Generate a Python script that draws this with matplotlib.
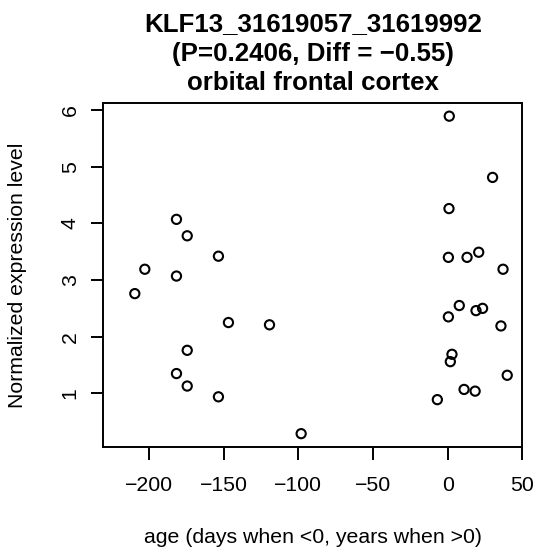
import numpy as np
import matplotlib
matplotlib.use("Agg")
import matplotlib.pyplot as plt

plt.rcParams['font.family'] = ['Liberation Sans', 'DejaVu Sans']

# ages (days when <0, years when >0)
age = [-209.5, -202.8, -181.6, -174.4, -153.5, -181.6, -146.8, -119.3,
       -174.4, -181.6, -174.4, -153.5, -98.1,
       1.1, 30.1, 0.9, 0.5, 13.0, 20.8, 37.1, 7.8, 0.5, 19.0, 23.4,
       35.7, 2.9, 1.8, 39.9, 11.0, 18.4, -6.9]
expr = [2.76, 3.19, 4.07, 3.78, 3.42, 3.07, 2.25, 2.21,
        1.76, 1.35, 1.13, 0.94, 0.29,
        5.89, 4.81, 4.26, 3.40, 3.40, 3.49, 3.19, 2.55, 2.35, 2.46, 2.50,
        2.19, 1.69, 1.56, 1.32, 1.07, 1.04, 0.89]

xticks = [-200, -150, -100, -50, 0, 50]
yticks = [1, 2, 3, 4, 5, 6]

title_lines = ["KLF13_31619057_31619992",
               "(P=0.2406, Diff = \u22120.55)",
               "orbital frontal cortex"]

W, H = 536, 555
fig = plt.figure(figsize=(W / 100, H / 100), dpi=100)

# plot box in pixels: left, right, top, bottom
L, R, T, B = 103.3, 522.3, 103.3, 446.7
ax = fig.add_axes([L / W, 1 - B / H, (R - L) / W, (B - T) / H])

ax.scatter(age, expr, s=44, facecolors='none', edgecolors='black', linewidths=1.5)

ax.set_xlim(-230.6, 50.0)
ax.set_ylim(0.06, 6.117)
ax.set_xticks(xticks)
ax.set_yticks(yticks)
ax.set_xticklabels([str(v).replace('-', '\u2212') for v in xticks])

for s in ax.spines.values():
    s.set_linewidth(1.4)
ax.tick_params(axis='both', direction='out', length=9, width=1.4, labelsize=15.3)
ax.tick_params(axis='x', pad=12)
ax.tick_params(axis='y', pad=8, labelrotation=90)
for lab in ax.get_yticklabels():
    lab.set_va('center')

cx = (L + R) / 2 / W
for i, line in enumerate(title_lines):
    fig.text(cx, 1 - (31.5 + 29 * i) / H, line, ha='center', va='baseline',
             fontsize=18.6, fontweight='bold')

fig.text(cx, 1 - 543 / H, "age (days when <0, years when >0)", ha='center',
         va='baseline', fontsize=15.3)
fig.text(18 / W, 1 - (T + B) / 2 / H, "Normalized expression level", rotation=90,
         ha='center', va='center', fontsize=15.3)

fig.savefig("out.png", dpi=100)
